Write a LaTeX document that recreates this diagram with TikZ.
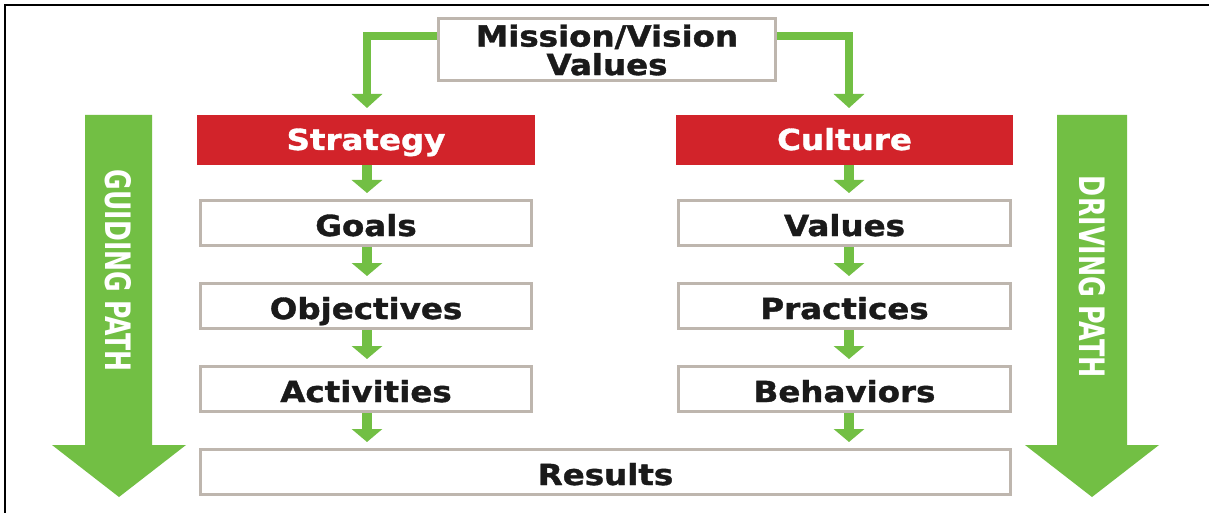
\documentclass[tikz,border=0pt]{standalone}
\usepackage{fontspec}
\usepackage{graphicx}
\usetikzlibrary{arrows.meta}
\setmainfont{DejaVu Sans}
\newfontfamily\heavyfont{DejaVu Sans Bold}[FakeBold=1.2]
\newfontfamily\condfont{DejaVu Sans Condensed}
\definecolor{grn}{HTML}{72BF44}
\definecolor{redbox}{HTML}{D2232A}
\definecolor{grayline}{HTML}{BEB6AE}
\definecolor{txtc}{HTML}{1A1A1A}
\newcommand{\boxtxt}[1]{\scalebox{1.12}[1]{#1}}
\begin{document}
\begin{tikzpicture}[x=1pt,y=-1pt,
  every node/.style={font=\fontsize{29}{28.5}\heavyfont},
  wbox/.style={draw=grayline,line width=3pt,fill=white,text=txtc,inner sep=0pt,text height=26pt,text depth=0pt},
  rbox/.style={fill=redbox,text=white,inner sep=0pt,text height=20pt,text depth=0pt},
  small/.style={grn,line width=10pt,-{Triangle[width=30pt,length=13pt]}, shorten >=6pt},
  conn/.style={grn,line width=8pt,-{Triangle[width=30pt,length=14pt]}}
]
\useasboundingbox (0,0) rectangle (1209,513);
\fill[white] (0,0) rectangle (1209,513);
\draw[black,line width=2pt] (5,513) -- (5,5) -- (1209,5);

% mission
\node[draw=grayline,line width=3pt,fill=white,text=txtc,inner sep=0pt,minimum width=337pt,minimum height=62pt,align=center] (mv) at (607,50)
  {\boxtxt{Mission/Vision}\\\boxtxt{Values}};

% red boxes
\node[rbox,minimum width=338pt,minimum height=50pt] (str) at (366,140) {\boxtxt{Strategy}};
\node[rbox,minimum width=337pt,minimum height=50pt] (cul) at (844.5,140) {\boxtxt{Culture}};

% left column
\node[wbox,minimum width=331pt,minimum height=45pt] (goals) at (366,223) {\boxtxt{Goals}};
\node[wbox,minimum width=331pt,minimum height=45pt] (obj) at (366,306) {\boxtxt{Objectives}};
\node[wbox,minimum width=331pt,minimum height=45pt] (act) at (366,389) {\boxtxt{Activities}};
% right column
\node[wbox,minimum width=332pt,minimum height=45pt] (val) at (844.5,223) {\boxtxt{Values}};
\node[wbox,minimum width=332pt,minimum height=45pt] (prac) at (844.5,306) {\boxtxt{Practices}};
\node[wbox,minimum width=332pt,minimum height=45pt] (beh) at (844.5,389) {\boxtxt{Behaviors}};
% results
\node[wbox,minimum width=810pt,minimum height=45pt] (res) at (605.5,472) {\boxtxt{Results}};

% connectors from mission
\draw[conn] (mv.west |- 0,36) -| (367,108);
\draw[conn] (mv.east |- 0,36) -| (849,108);

% small arrows
\coordinate (lx) at (367,0);
\coordinate (rx) at (849,0);
\draw[small] (lx |- str.south) -- (lx |- goals.north);
\draw[small] (lx |- goals.south) -- (lx |- obj.north);
\draw[small] (lx |- obj.south) -- (lx |- act.north);
\draw[small] (lx |- act.south) -- (lx |- res.north);
\draw[small] (rx |- cul.south) -- (rx |- val.north);
\draw[small] (rx |- val.south) -- (rx |- prac.north);
\draw[small] (rx |- prac.south) -- (rx |- beh.north);
\draw[small] (rx |- beh.south) -- (rx |- res.north);

% big arrows
\fill[grn] (85,115) -- (152,115) -- (152,445) -- (186,445) -- (119,497) -- (52,445) -- (85,445) -- cycle;
\fill[grn] (1057,115) -- (1127,115) -- (1127,445) -- (1159,445) -- (1092,497) -- (1025,445) -- (1057,445) -- cycle;
\node[rotate=-90,text=white,inner sep=0pt] (gp) at (118.5,271) {\resizebox{202pt}{26pt}{\condfont\bfseries GUIDING PATH}};
\node[rotate=-90,text=white,inner sep=0pt] (dp) at (1092,277) {\resizebox{202pt}{26pt}{\condfont\bfseries DRIVING PATH}};
\end{tikzpicture}
\end{document}
